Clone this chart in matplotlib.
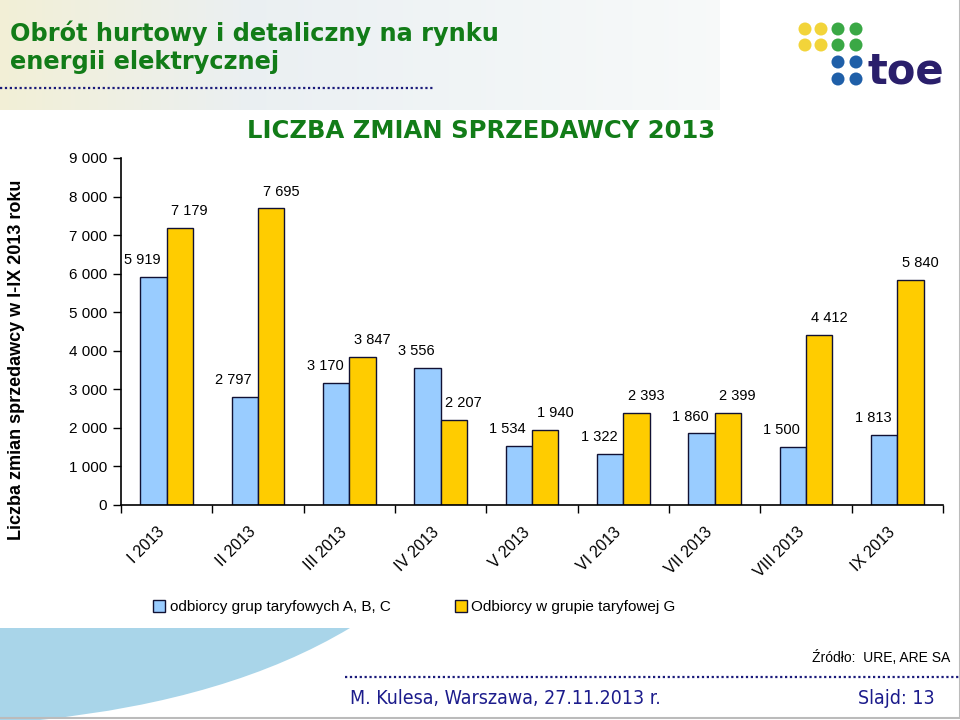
import matplotlib
matplotlib.use("Agg")
import matplotlib.pyplot as plt
import numpy as np
from matplotlib.patches import Rectangle, Circle, PathPatch, Patch
from matplotlib.path import Path

# ---------------- data ----------------
categories = ["I 2013", "II 2013", "III 2013", "IV 2013", "V 2013",
              "VI 2013", "VII 2013", "VIII 2013", "IX 2013"]
abc_values = [5919, 2797, 3170, 3556, 1534, 1322, 1860, 1500, 1813]
g_values = [7179, 7695, 3847, 2207, 1940, 2393, 2399, 4412, 5840]
series_names = ["odbiorcy grup taryfowych A, B, C", "Odbiorcy w grupie taryfowej G"]
yticks = [0, 1000, 2000, 3000, 4000, 5000, 6000, 7000, 8000, 9000]

def fmt(v):
    return f"{v:,}".replace(",", " ")

W, H = 960, 720
fig = plt.figure(figsize=(9.6, 7.2), dpi=100)
fig.patch.set_facecolor("white")

# ---------------- slide decorations (pixel coords overlay) ----------------
bg = fig.add_axes([0, 0, 1, 1], zorder=0)
bg.set_xlim(0, W)
bg.set_ylim(H, 0)
bg.axis("off")

# header gradient
grad = np.linspace(0, 1, 256)
c0 = np.array([0.95, 0.94, 0.84])
c1 = np.array([0.92, 0.94, 0.95])
c2 = np.array([0.97, 0.98, 0.98])
cols = np.where(grad[:, None] < 0.35,
                c0 + (c1 - c0) * (grad[:, None] / 0.35),
                c1 + (c2 - c1) * ((grad[:, None] - 0.35) / 0.65))
bg.imshow(cols[None, :, :], extent=(0, 720, 110, 0), aspect="auto", zorder=0)

# header dotted line
bg.plot([0, 435], [88, 88], color="#1a1a7a", lw=1.6, ls=(0, (1, 1.2)), zorder=2)
# footer dotted line
bg.plot([345, 960], [677, 677], color="#1a1a7a", lw=1.6, ls=(0, (1, 1.2)), zorder=2)

# bottom-left blue shape
verts = [(0, 628), (350, 628), (230, 700), (40, 720), (0, 720), (0, 628)]
codes = [Path.MOVETO, Path.LINETO, Path.CURVE3, Path.CURVE3, Path.LINETO, Path.CLOSEPOLY]
bg.add_patch(PathPatch(Path(verts, codes), facecolor="#a9d5e9", edgecolor="none", zorder=1))

# slide border
bg.plot([0, 960, 960], [718, 718, 0], color="#bbbbbb", lw=1.5, zorder=2)

# logo
for (cx, cy, c) in [(805, 29, "#f2d43a"), (821, 29, "#f2d43a"), (805, 45, "#f2d43a"), (821, 45, "#f2d43a"),
                    (838, 29, "#3aa845"), (856, 29, "#3aa845"), (838, 45, "#3aa845"), (856, 45, "#3aa845"),
                    (838, 62, "#1f5fa8"), (856, 62, "#1f5fa8"), (838, 79, "#1f5fa8"), (856, 79, "#1f5fa8")]:
    bg.add_patch(Circle((cx, cy), 6.5, facecolor=c, edgecolor="none", zorder=3))
bg.text(867, 72, "toe", fontsize=30, fontweight="bold", color="#2a1f6b",
        family="DejaVu Sans", ha="left", va="center", zorder=3)

# titles
green = "#127c18"
bg.text(10, 33, "Obrót hurtowy i detaliczny na rynku", fontsize=17.3, fontweight="bold",
        color=green, family="DejaVu Sans", ha="left", va="center", zorder=3)
bg.text(10, 62, "energii elektrycznej", fontsize=17.3, fontweight="bold",
        color=green, family="DejaVu Sans", ha="left", va="center", zorder=3)
bg.text(481, 131, "LICZBA ZMIAN SPRZEDAWCY 2013", fontsize=17.5, fontweight="bold",
        color=green, family="DejaVu Sans", ha="center", va="center", zorder=3)

# source and footer
bg.text(950, 657, "Źródło:  URE, ARE SA", fontsize=10, color="black",
        family="Liberation Sans", ha="right", va="center", zorder=3)
navy = "#1c1c8c"
bg.text(350, 699, "M. Kulesa, Warszawa, 27.11.2013 r.", fontsize=14, color=navy,
        family="DejaVu Sans", fontstretch="condensed", ha="left", va="center", zorder=3)
bg.text(935, 699, "Slajd: 13", fontsize=14, color=navy,
        family="DejaVu Sans", fontstretch="condensed", ha="right", va="center", zorder=3)

# y label
bg.text(17, 360, "Liczba zmian sprzedawcy w I-IX 2013 roku", fontsize=13, fontweight="bold",
        color="black", family="Liberation Sans", rotation=90, ha="center", va="center", zorder=3)

# ---------------- chart ----------------
ax = fig.add_axes([121 / W, 1 - 505 / H, (943 - 121) / W, (505 - 158) / H], zorder=2)
ax.patch.set_alpha(0)
x = np.arange(len(categories))
bw = 0.29
blue = "#99ccff"
yellow = "#ffcc00"
b1 = ax.bar(x - bw / 2, abc_values, bw, color=blue, edgecolor="#111133", linewidth=1.0, label=series_names[0])
b2 = ax.bar(x + bw / 2, g_values, bw, color=yellow, edgecolor="#111133", linewidth=1.0, label=series_names[1])

ax.set_xlim(-0.5, len(categories) - 0.5)
ax.set_ylim(0, 9000)
ax.set_yticks(yticks)
ax.set_yticklabels([fmt(v) for v in yticks], fontsize=11, family="Liberation Sans")
ax.tick_params(axis="y", direction="out", length=6, width=1, pad=4)

ax.set_xticks(np.arange(len(categories) + 1) - 0.5)
ax.set_xticklabels([])
ax.tick_params(axis="x", direction="out", length=6, width=1)
for xi, lab in zip(x, categories):
    ax.annotate(lab, xy=(xi, 0), xycoords=("data", "axes fraction"),
                xytext=(-7, -14), textcoords="offset points",
                rotation=45, rotation_mode="anchor", ha="right", va="top",
                fontsize=11.5, family="Liberation Sans")

for side in ["top", "right"]:
    ax.spines[side].set_visible(False)
ax.spines["left"].set_linewidth(1.2)
ax.spines["bottom"].set_linewidth(1.2)

for rect, v in zip(b1, abc_values):
    ax.annotate(fmt(v), xy=(rect.get_x() + rect.get_width() / 2, v), xytext=(-8, 7),
                textcoords="offset points", ha="center", va="bottom", fontsize=10.5,
                family="Liberation Sans")
for rect, v in zip(b2, g_values):
    ax.annotate(fmt(v), xy=(rect.get_x() + rect.get_width() / 2, v), xytext=(7, 7),
                textcoords="offset points", ha="center", va="bottom", fontsize=10.5,
                family="Liberation Sans")

handles = [Patch(facecolor=blue, edgecolor="#111133"), Patch(facecolor=yellow, edgecolor="#111133")]
fig.legend(handles, series_names, loc="center left", bbox_to_anchor=(139 / W, 1 - 607 / H),
           ncol=2, frameon=False, prop={"family": "Liberation Sans", "size": 11},
           handlelength=0.8, handleheight=0.8, handletextpad=0.3, columnspacing=4.2)

fig.savefig("out.png", dpi=100, facecolor="white")
